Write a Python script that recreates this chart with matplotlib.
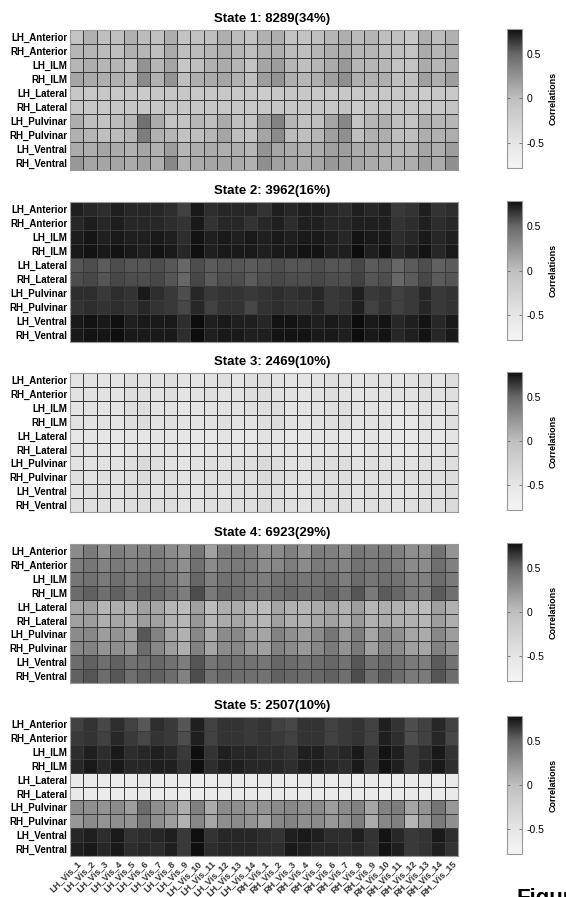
import numpy as np
import matplotlib
matplotlib.use("Agg")
import matplotlib.pyplot as plt
from matplotlib.colors import LinearSegmentedColormap, Normalize

plt.rcParams['font.family'] = ['Liberation Sans', 'DejaVu Sans']

# Labels
ROWS = ["LH_Anterior", "RH_Anterior", "LH_ILM", "RH_ILM", "LH_Lateral",
        "RH_Lateral", "LH_Pulvinar", "RH_Pulvinar", "LH_Ventral", "RH_Ventral"]
COLS = [f"LH_Vis_{i}" for i in range(1, 15)] + [f"RH_Vis_{i}" for i in range(1, 16)]

STATE_IDS = [1, 2, 3, 4, 5]
STATE_COUNTS = [8289, 3962, 2469, 6923, 2507]
STATE_PCTS = [34, 16, 10, 29, 10]

# Correlation matrices (rows x columns)
state1 = [
    [-0.05, 0.08, 0.00, 0.00, 0.08, 0.02, -0.02, 0.10, -0.05, -0.03, 0.00, 0.10, 0.02, -0.05, 0.08, 0.10, -0.05, -0.05, 0.00, 0.05, 0.10, 0.03, 0.06, 0.00, -0.03, -0.10, 0.10, 0.02, 0.08],
    [0.05, 0.05, 0.02, 0.00, 0.08, 0.05, 0.00, 0.12, 0.00, 0.02, 0.05, 0.10, 0.05, 0.00, 0.08, 0.10, 0.02, 0.00, 0.05, 0.10, 0.12, 0.05, 0.05, 0.02, 0.00, -0.05, 0.12, 0.05, 0.10],
    [0.05, 0.10, 0.05, 0.05, 0.00, 0.25, 0.05, 0.15, -0.10, 0.00, 0.08, 0.12, 0.05, -0.05, 0.15, 0.20, 0.05, 0.00, 0.05, 0.12, 0.22, 0.05, 0.05, 0.05, -0.05, -0.05, 0.12, 0.05, 0.10],
    [0.15, 0.12, 0.10, 0.08, 0.05, 0.30, 0.08, 0.25, 0.00, 0.10, 0.12, 0.15, 0.08, 0.00, 0.20, 0.25, 0.10, 0.05, 0.10, 0.18, 0.28, 0.10, 0.08, 0.10, 0.00, 0.00, 0.18, 0.10, 0.20],
    [-0.10, -0.12, -0.10, -0.12, -0.10, -0.15, -0.10, -0.08, -0.12, -0.12, -0.10, -0.10, -0.12, -0.12, -0.15, -0.10, -0.10, -0.12, -0.12, -0.12, -0.10, -0.12, -0.10, -0.12, -0.12, -0.12, -0.15, -0.10, -0.12],
    [-0.08, -0.10, -0.10, -0.10, -0.08, -0.12, -0.10, -0.05, -0.10, -0.10, -0.08, -0.08, -0.10, -0.12, -0.10, -0.08, -0.10, -0.12, -0.08, -0.10, -0.05, -0.15, -0.08, -0.10, -0.10, -0.10, -0.08, -0.10, -0.05],
    [0.10, 0.00, -0.05, 0.02, 0.05, 0.45, 0.12, -0.05, -0.05, 0.05, 0.00, 0.12, 0.00, -0.05, 0.20, 0.35, 0.05, -0.02, 0.00, 0.15, 0.32, -0.05, 0.05, 0.10, 0.00, -0.05, 0.10, 0.05, 0.05],
    [0.08, 0.05, 0.00, 0.02, 0.05, 0.38, 0.08, 0.05, -0.05, 0.00, 0.05, 0.15, 0.00, -0.05, 0.15, 0.30, 0.02, 0.00, 0.05, 0.18, 0.28, 0.00, 0.08, 0.10, 0.00, 0.00, 0.10, 0.08, 0.10],
    [0.12, 0.10, 0.15, 0.12, 0.08, 0.15, 0.08, 0.20, 0.05, 0.10, 0.12, 0.10, 0.10, 0.05, 0.25, 0.15, 0.12, 0.10, 0.12, 0.18, 0.20, 0.12, 0.10, 0.08, 0.05, 0.05, 0.15, 0.10, 0.20],
    [0.22, 0.15, 0.15, 0.15, 0.12, 0.18, 0.10, 0.32, 0.08, 0.12, 0.15, 0.15, 0.12, 0.08, 0.28, 0.18, 0.15, 0.12, 0.15, 0.22, 0.20, 0.15, 0.12, 0.10, 0.08, 0.10, 0.18, 0.12, 0.28],
]
state2 = [
    [0.72, 0.70, 0.68, 0.72, 0.70, 0.70, 0.70, 0.68, 0.62, 0.74, 0.68, 0.70, 0.70, 0.70, 0.66, 0.72, 0.70, 0.72, 0.72, 0.70, 0.68, 0.72, 0.70, 0.72, 0.64, 0.66, 0.72, 0.66, 0.68],
    [0.70, 0.73, 0.70, 0.73, 0.70, 0.70, 0.70, 0.68, 0.66, 0.74, 0.66, 0.70, 0.70, 0.66, 0.70, 0.72, 0.68, 0.72, 0.72, 0.70, 0.70, 0.72, 0.72, 0.72, 0.66, 0.68, 0.72, 0.68, 0.70],
    [0.73, 0.75, 0.72, 0.74, 0.72, 0.72, 0.74, 0.72, 0.68, 0.76, 0.72, 0.74, 0.72, 0.74, 0.72, 0.74, 0.72, 0.74, 0.74, 0.72, 0.70, 0.76, 0.74, 0.74, 0.68, 0.70, 0.74, 0.70, 0.72],
    [0.74, 0.76, 0.74, 0.76, 0.74, 0.72, 0.76, 0.74, 0.70, 0.77, 0.72, 0.74, 0.74, 0.74, 0.72, 0.74, 0.74, 0.76, 0.76, 0.72, 0.72, 0.78, 0.72, 0.76, 0.70, 0.72, 0.76, 0.70, 0.74],
    [0.56, 0.58, 0.54, 0.58, 0.56, 0.56, 0.58, 0.55, 0.50, 0.58, 0.54, 0.56, 0.56, 0.54, 0.56, 0.58, 0.56, 0.56, 0.58, 0.56, 0.56, 0.60, 0.54, 0.56, 0.50, 0.54, 0.58, 0.52, 0.54],
    [0.58, 0.60, 0.56, 0.60, 0.58, 0.58, 0.60, 0.56, 0.50, 0.60, 0.54, 0.58, 0.58, 0.54, 0.58, 0.60, 0.58, 0.58, 0.60, 0.58, 0.58, 0.62, 0.56, 0.58, 0.50, 0.54, 0.60, 0.54, 0.56],
    [0.68, 0.68, 0.64, 0.68, 0.66, 0.74, 0.68, 0.64, 0.58, 0.70, 0.64, 0.66, 0.66, 0.64, 0.66, 0.68, 0.66, 0.68, 0.70, 0.64, 0.66, 0.72, 0.64, 0.66, 0.62, 0.64, 0.70, 0.64, 0.66],
    [0.66, 0.68, 0.66, 0.68, 0.66, 0.70, 0.66, 0.64, 0.60, 0.70, 0.62, 0.66, 0.66, 0.60, 0.66, 0.68, 0.66, 0.66, 0.70, 0.64, 0.66, 0.72, 0.62, 0.66, 0.62, 0.64, 0.70, 0.64, 0.66],
    [0.74, 0.76, 0.74, 0.77, 0.72, 0.74, 0.74, 0.74, 0.68, 0.78, 0.72, 0.74, 0.72, 0.72, 0.70, 0.76, 0.76, 0.74, 0.72, 0.74, 0.72, 0.78, 0.74, 0.76, 0.70, 0.72, 0.76, 0.70, 0.74],
    [0.74, 0.76, 0.75, 0.77, 0.74, 0.74, 0.74, 0.74, 0.68, 0.78, 0.72, 0.74, 0.74, 0.72, 0.72, 0.76, 0.76, 0.76, 0.74, 0.74, 0.72, 0.78, 0.74, 0.76, 0.70, 0.72, 0.76, 0.70, 0.74],
]
state3 = [
    [-0.48, -0.45, -0.48, -0.48, -0.42, -0.45, -0.45, -0.42, -0.48, -0.48, -0.45, -0.42, -0.48, -0.42, -0.40, -0.45, -0.48, -0.48, -0.45, -0.42, -0.45, -0.48, -0.45, -0.45, -0.48, -0.45, -0.42, -0.48, -0.40],
    [-0.45, -0.45, -0.45, -0.48, -0.40, -0.42, -0.45, -0.40, -0.48, -0.45, -0.42, -0.45, -0.45, -0.40, -0.38, -0.45, -0.45, -0.48, -0.45, -0.40, -0.45, -0.48, -0.45, -0.45, -0.45, -0.45, -0.40, -0.45, -0.42],
    [-0.48, -0.45, -0.48, -0.48, -0.42, -0.38, -0.48, -0.45, -0.50, -0.48, -0.45, -0.45, -0.45, -0.42, -0.40, -0.38, -0.48, -0.48, -0.45, -0.42, -0.40, -0.48, -0.45, -0.48, -0.50, -0.48, -0.45, -0.48, -0.45],
    [-0.45, -0.45, -0.45, -0.48, -0.42, -0.38, -0.45, -0.42, -0.48, -0.48, -0.45, -0.42, -0.45, -0.45, -0.40, -0.38, -0.45, -0.48, -0.45, -0.42, -0.40, -0.48, -0.45, -0.45, -0.50, -0.50, -0.45, -0.48, -0.42],
    [-0.50, -0.48, -0.50, -0.50, -0.48, -0.50, -0.48, -0.48, -0.50, -0.52, -0.50, -0.48, -0.50, -0.50, -0.45, -0.48, -0.50, -0.50, -0.48, -0.48, -0.50, -0.50, -0.48, -0.50, -0.52, -0.55, -0.48, -0.50, -0.48],
    [-0.48, -0.48, -0.48, -0.50, -0.48, -0.48, -0.48, -0.48, -0.50, -0.50, -0.48, -0.48, -0.48, -0.48, -0.45, -0.48, -0.48, -0.50, -0.48, -0.48, -0.48, -0.50, -0.48, -0.48, -0.50, -0.50, -0.48, -0.48, -0.45],
    [-0.45, -0.45, -0.45, -0.45, -0.42, -0.35, -0.42, -0.45, -0.48, -0.45, -0.42, -0.45, -0.42, -0.40, -0.35, -0.38, -0.45, -0.45, -0.42, -0.38, -0.38, -0.45, -0.42, -0.45, -0.45, -0.45, -0.42, -0.45, -0.42],
    [-0.42, -0.45, -0.42, -0.45, -0.40, -0.35, -0.42, -0.42, -0.45, -0.45, -0.42, -0.42, -0.42, -0.40, -0.35, -0.38, -0.42, -0.45, -0.42, -0.40, -0.38, -0.45, -0.42, -0.42, -0.45, -0.42, -0.40, -0.42, -0.38],
    [-0.45, -0.42, -0.42, -0.45, -0.42, -0.40, -0.45, -0.42, -0.45, -0.45, -0.42, -0.45, -0.42, -0.42, -0.38, -0.40, -0.45, -0.45, -0.42, -0.42, -0.42, -0.45, -0.42, -0.45, -0.45, -0.45, -0.42, -0.42, -0.38],
    [-0.42, -0.42, -0.42, -0.45, -0.40, -0.38, -0.42, -0.38, -0.45, -0.45, -0.42, -0.42, -0.42, -0.40, -0.35, -0.40, -0.42, -0.45, -0.42, -0.40, -0.40, -0.45, -0.42, -0.42, -0.45, -0.42, -0.40, -0.42, -0.35],
]
state4 = [
    [0.30, 0.40, 0.28, 0.38, 0.32, 0.35, 0.38, 0.30, 0.25, 0.42, 0.18, 0.38, 0.40, 0.36, 0.28, 0.30, 0.36, 0.25, 0.38, 0.36, 0.30, 0.42, 0.38, 0.40, 0.36, 0.28, 0.28, 0.44, 0.25],
    [0.38, 0.42, 0.35, 0.40, 0.36, 0.38, 0.40, 0.35, 0.28, 0.45, 0.30, 0.38, 0.40, 0.38, 0.30, 0.32, 0.38, 0.30, 0.40, 0.38, 0.34, 0.44, 0.40, 0.42, 0.38, 0.30, 0.30, 0.46, 0.36],
    [0.42, 0.45, 0.40, 0.46, 0.40, 0.46, 0.44, 0.40, 0.32, 0.50, 0.36, 0.45, 0.44, 0.40, 0.38, 0.44, 0.45, 0.42, 0.44, 0.46, 0.38, 0.48, 0.42, 0.46, 0.44, 0.36, 0.36, 0.48, 0.40],
    [0.48, 0.52, 0.46, 0.52, 0.44, 0.52, 0.50, 0.44, 0.38, 0.58, 0.40, 0.50, 0.48, 0.42, 0.42, 0.48, 0.50, 0.46, 0.48, 0.52, 0.44, 0.56, 0.40, 0.54, 0.50, 0.40, 0.38, 0.54, 0.46],
    [0.15, 0.18, 0.05, 0.10, 0.08, 0.18, 0.15, 0.05, 0.02, 0.18, 0.02, 0.10, 0.12, 0.05, 0.02, 0.15, 0.08, 0.05, 0.12, 0.15, 0.08, 0.20, 0.05, 0.10, 0.08, 0.05, 0.02, 0.18, 0.08],
    [0.18, 0.20, 0.10, 0.15, 0.10, 0.20, 0.18, 0.08, 0.05, 0.22, 0.05, 0.12, 0.15, 0.08, 0.05, 0.18, 0.10, 0.08, 0.15, 0.18, 0.10, 0.22, 0.08, 0.12, 0.10, 0.08, 0.05, 0.20, 0.10],
    [0.30, 0.32, 0.20, 0.25, 0.18, 0.55, 0.35, 0.15, 0.08, 0.32, 0.12, 0.30, 0.32, 0.18, 0.15, 0.35, 0.28, 0.20, 0.30, 0.42, 0.22, 0.38, 0.15, 0.32, 0.28, 0.15, 0.12, 0.32, 0.20],
    [0.32, 0.35, 0.25, 0.28, 0.22, 0.48, 0.32, 0.20, 0.10, 0.35, 0.15, 0.30, 0.32, 0.22, 0.18, 0.35, 0.30, 0.22, 0.32, 0.40, 0.25, 0.40, 0.18, 0.32, 0.30, 0.18, 0.15, 0.35, 0.25],
    [0.48, 0.52, 0.46, 0.52, 0.44, 0.48, 0.50, 0.45, 0.38, 0.56, 0.42, 0.48, 0.46, 0.44, 0.42, 0.50, 0.48, 0.44, 0.48, 0.50, 0.44, 0.55, 0.45, 0.50, 0.46, 0.40, 0.38, 0.54, 0.44],
    [0.52, 0.56, 0.48, 0.55, 0.46, 0.52, 0.52, 0.48, 0.35, 0.58, 0.44, 0.50, 0.48, 0.46, 0.44, 0.52, 0.50, 0.48, 0.50, 0.52, 0.46, 0.58, 0.46, 0.54, 0.48, 0.40, 0.40, 0.56, 0.48],
]
state5 = [
    [0.62, 0.66, 0.60, 0.68, 0.62, 0.55, 0.68, 0.64, 0.56, 0.72, 0.62, 0.66, 0.66, 0.64, 0.66, 0.62, 0.60, 0.66, 0.66, 0.62, 0.64, 0.66, 0.62, 0.72, 0.66, 0.58, 0.62, 0.70, 0.62],
    [0.64, 0.66, 0.62, 0.70, 0.64, 0.60, 0.66, 0.64, 0.58, 0.72, 0.62, 0.66, 0.66, 0.64, 0.66, 0.64, 0.62, 0.66, 0.66, 0.62, 0.64, 0.66, 0.62, 0.72, 0.68, 0.58, 0.62, 0.70, 0.60],
    [0.68, 0.72, 0.68, 0.74, 0.68, 0.70, 0.72, 0.70, 0.64, 0.77, 0.66, 0.72, 0.70, 0.70, 0.68, 0.68, 0.66, 0.72, 0.72, 0.68, 0.70, 0.74, 0.66, 0.76, 0.72, 0.64, 0.68, 0.74, 0.66],
    [0.70, 0.74, 0.70, 0.74, 0.70, 0.70, 0.72, 0.72, 0.66, 0.77, 0.68, 0.72, 0.72, 0.70, 0.70, 0.70, 0.68, 0.72, 0.72, 0.70, 0.68, 0.74, 0.66, 0.76, 0.72, 0.64, 0.70, 0.74, 0.68],
    [-0.58, -0.58, -0.60, -0.62, -0.58, -0.55, -0.62, -0.58, -0.60, -0.62, -0.60, -0.58, -0.58, -0.60, -0.58, -0.58, -0.60, -0.58, -0.58, -0.60, -0.58, -0.60, -0.58, -0.62, -0.60, -0.58, -0.60, -0.60, -0.58],
    [-0.56, -0.58, -0.60, -0.60, -0.58, -0.55, -0.60, -0.58, -0.60, -0.62, -0.58, -0.56, -0.58, -0.58, -0.58, -0.56, -0.58, -0.58, -0.58, -0.58, -0.56, -0.58, -0.58, -0.60, -0.58, -0.56, -0.58, -0.58, -0.58],
    [0.30, 0.28, 0.25, 0.30, 0.20, 0.48, 0.28, 0.22, 0.10, 0.36, 0.12, 0.30, 0.28, 0.22, 0.25, 0.30, 0.32, 0.28, 0.30, 0.20, 0.30, 0.35, 0.15, 0.35, 0.38, 0.15, 0.25, 0.42, 0.22],
    [0.22, 0.30, 0.25, 0.28, 0.25, 0.42, 0.28, 0.20, 0.08, 0.32, 0.15, 0.28, 0.30, 0.25, 0.18, 0.32, 0.35, 0.28, 0.30, 0.22, 0.28, 0.38, 0.12, 0.32, 0.36, 0.05, 0.22, 0.40, 0.28],
    [0.70, 0.72, 0.68, 0.74, 0.66, 0.68, 0.70, 0.72, 0.64, 0.77, 0.66, 0.70, 0.70, 0.70, 0.68, 0.66, 0.72, 0.74, 0.72, 0.68, 0.68, 0.72, 0.66, 0.76, 0.70, 0.64, 0.66, 0.74, 0.68],
    [0.72, 0.74, 0.70, 0.74, 0.68, 0.70, 0.68, 0.72, 0.64, 0.77, 0.68, 0.70, 0.70, 0.70, 0.68, 0.68, 0.74, 0.72, 0.70, 0.70, 0.68, 0.70, 0.66, 0.76, 0.72, 0.64, 0.66, 0.72, 0.66],
]
STATES = [state1, state2, state3, state4, state5]

# Colour scale: light grey for negative, black for strong positive
VMIN, VMAX = -0.78, 0.78
cmap = LinearSegmentedColormap.from_list("corr_gray", [
    (0.0, (0.96, 0.96, 0.96)),
    (0.18, (0.90, 0.90, 0.90)),
    (0.5, (0.75, 0.75, 0.75)),
    (0.82, (0.41, 0.41, 0.41)),
    (1.0, (0.05, 0.05, 0.05)),
])
norm = Normalize(vmin=VMIN, vmax=VMAX)

W, H = 566, 897
fig = plt.figure(figsize=(W / 100, H / 100), dpi=100)

# pixel boxes of heatmaps: (top, bottom)
PANEL_Y = [(30, 170), (202, 342), (373, 512), (544, 683), (717, 856)]
HM_X0, HM_X1 = 70, 458
CB_X0, CB_X1 = 507, 522

for k, data in enumerate(STATES):
    top, bot = PANEL_Y[k]
    ax = fig.add_axes([HM_X0 / W, 1 - bot / H, (HM_X1 - HM_X0) / W, (bot - top) / H])
    arr = np.array(data)
    mesh = ax.pcolormesh(arr, cmap=cmap, norm=norm, edgecolors="#3a3a3a", linewidth=0.6)
    ax.set_xlim(0, len(COLS))
    ax.set_ylim(len(ROWS), 0)
    ax.set_yticks(np.arange(len(ROWS)) + 0.5)
    ax.set_yticklabels(ROWS, fontsize=7, fontweight="bold")
    ax.tick_params(axis="both", length=0, pad=2)
    if k == len(STATES) - 1:
        ax.set_xticks(np.arange(len(COLS)) + 0.5)
        ax.set_xticklabels(COLS, rotation=45, ha="right", rotation_mode="anchor",
                           fontsize=6.5, fontweight="bold", color="#333333")
    else:
        ax.set_xticks([])
    for s in ax.spines.values():
        s.set_color("#999999")
        s.set_linewidth(0.8)
    ax.set_title(f"State {STATE_IDS[k]}: {STATE_COUNTS[k]}({STATE_PCTS[k]}%)",
                 fontsize=9.5, fontweight="bold", pad=6, x=0.52)

    cax = fig.add_axes([CB_X0 / W, 1 - (bot - 2) / H, (CB_X1 - CB_X0) / W, (bot - top - 1) / H])
    cb = fig.colorbar(mesh, cax=cax)
    cb.set_ticks([-0.5, 0, 0.5])
    cb.set_ticklabels(["-0.5", "0", "0.5"])
    cb.ax.tick_params(labelsize=7.5, direction="in", length=2.5, width=0.6,
                      left=True, right=True, color="#666666", pad=3)
    cb.outline.set_edgecolor("#999999")
    cb.outline.set_linewidth(0.8)
    cb.set_label("Correlations", fontsize=6.5, fontweight="bold", labelpad=3)

# cropped caption from the source page
fig.text(517 / W, 1 - 888 / H, "Figure", fontsize=16, fontweight="bold", va="top", ha="left")

fig.savefig("out.png", dpi=100)
